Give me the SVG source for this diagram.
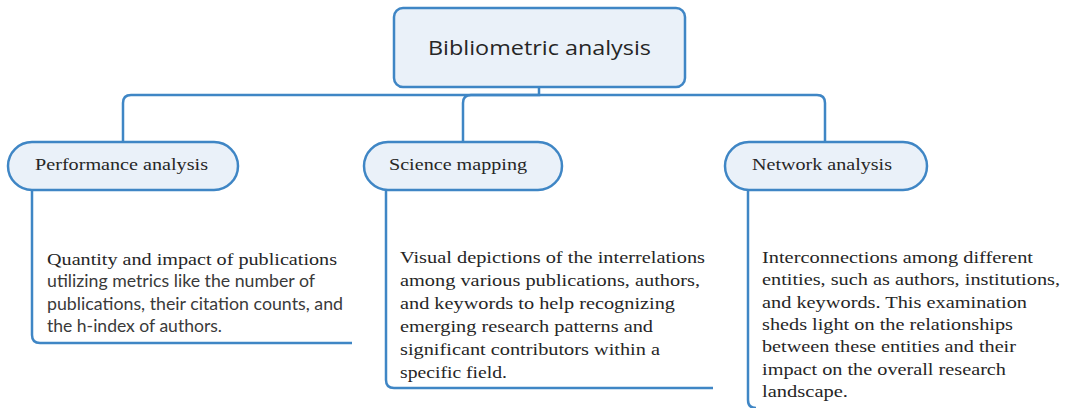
<svg xmlns="http://www.w3.org/2000/svg" width="1068" height="408" viewBox="0 0 1068 408">
<style>
.box{fill:#eaf1f9;stroke:#3f86c5;stroke-width:2.5}
.ln{fill:none;stroke:#3f86c5;stroke-width:2.5}
.hd{font-family:"Liberation Serif",serif;font-size:17.5px;fill:#262626}
.ttl{font-family:"Open Sans","Noto Sans",sans-serif;font-size:20px;fill:#262626}
.sf{font-family:"Liberation Serif",serif;font-size:17px;fill:#262626}
.ss{font-family:Lato,"Liberation Sans",sans-serif;font-size:17px;fill:#3a3a3a}
</style>
<rect width="1068" height="408" fill="#ffffff"/>
<g id="connectors">
<path class="ln" d="M539,87 V95 H131 Q123,95 123,103 V142"/>
<path class="ln" d="M539,95 H471 Q463,95 463,103 V142"/>
<path class="ln" d="M539,95 H817 Q825,95 825,103 V142"/>
<path class="ln" d="M32,190 V335 Q32,343 40,343 H352"/>
<path class="ln" d="M386,190 V380 Q386,388 394,388 H713"/>
<path class="ln" d="M748,190 V400 Q748,408 756,408"/>
</g>
<g id="root">
<rect class="box" x="394" y="8" width="291" height="79" rx="9"/>
<text class="ttl" x="539.5" y="55" text-anchor="middle" textLength="223" lengthAdjust="spacingAndGlyphs">Bibliometric analysis</text>
</g>
<g id="performance">
<rect class="box" x="8" y="142" width="230" height="48" rx="24"/>
<text class="hd" x="35" y="170" textLength="173" lengthAdjust="spacingAndGlyphs">Performance analysis</text>
</g>
<g id="science">
<rect class="box" x="364" y="142" width="198" height="48" rx="24"/>
<text class="hd" x="389" y="170" textLength="138" lengthAdjust="spacingAndGlyphs">Science mapping</text>
</g>
<g id="network">
<rect class="box" x="725" y="142" width="202" height="48" rx="24"/>
<text class="hd" x="752" y="170" textLength="140" lengthAdjust="spacingAndGlyphs">Network analysis</text>
</g>
<g id="performance-text">
<text class="sf" x="47" y="265" textLength="290" lengthAdjust="spacingAndGlyphs">Quantity and impact of publications</text>
<text class="ss" x="47" y="287" textLength="268" lengthAdjust="spacingAndGlyphs">utilizing metrics like the number of</text>
<text class="ss" x="47" y="310" textLength="296" lengthAdjust="spacingAndGlyphs">publications, their citation counts, and</text>
<text class="ss" x="47" y="332" textLength="175" lengthAdjust="spacingAndGlyphs">the h-index of authors.</text>
</g>
<g id="science-text">
<text class="sf" x="400" y="263" textLength="305" lengthAdjust="spacingAndGlyphs">Visual depictions of the interrelations</text>
<text class="sf" x="400" y="286" textLength="300" lengthAdjust="spacingAndGlyphs">among various publications, authors,</text>
<text class="sf" x="400" y="309" textLength="275" lengthAdjust="spacingAndGlyphs">and keywords to help recognizing</text>
<text class="sf" x="400" y="332" textLength="253" lengthAdjust="spacingAndGlyphs">emerging research patterns and</text>
<text class="sf" x="400" y="355" textLength="260" lengthAdjust="spacingAndGlyphs">significant contributors within a</text>
<text class="sf" x="400" y="378" textLength="107" lengthAdjust="spacingAndGlyphs">specific field.</text>
</g>
<g id="network-text">
<text class="sf" x="762" y="263" textLength="271" lengthAdjust="spacingAndGlyphs">Interconnections among different</text>
<text class="sf" x="762" y="285" textLength="298" lengthAdjust="spacingAndGlyphs">entities, such as authors, institutions,</text>
<text class="sf" x="762" y="308" textLength="265" lengthAdjust="spacingAndGlyphs">and keywords. This examination</text>
<text class="sf" x="762" y="330" textLength="251" lengthAdjust="spacingAndGlyphs">sheds light on the relationships</text>
<text class="sf" x="762" y="352" textLength="254" lengthAdjust="spacingAndGlyphs">between these entities and their</text>
<text class="sf" x="762" y="375" textLength="244" lengthAdjust="spacingAndGlyphs">impact on the overall research</text>
<text class="sf" x="762" y="397" textLength="86" lengthAdjust="spacingAndGlyphs">landscape.</text>
</g>
</svg>
